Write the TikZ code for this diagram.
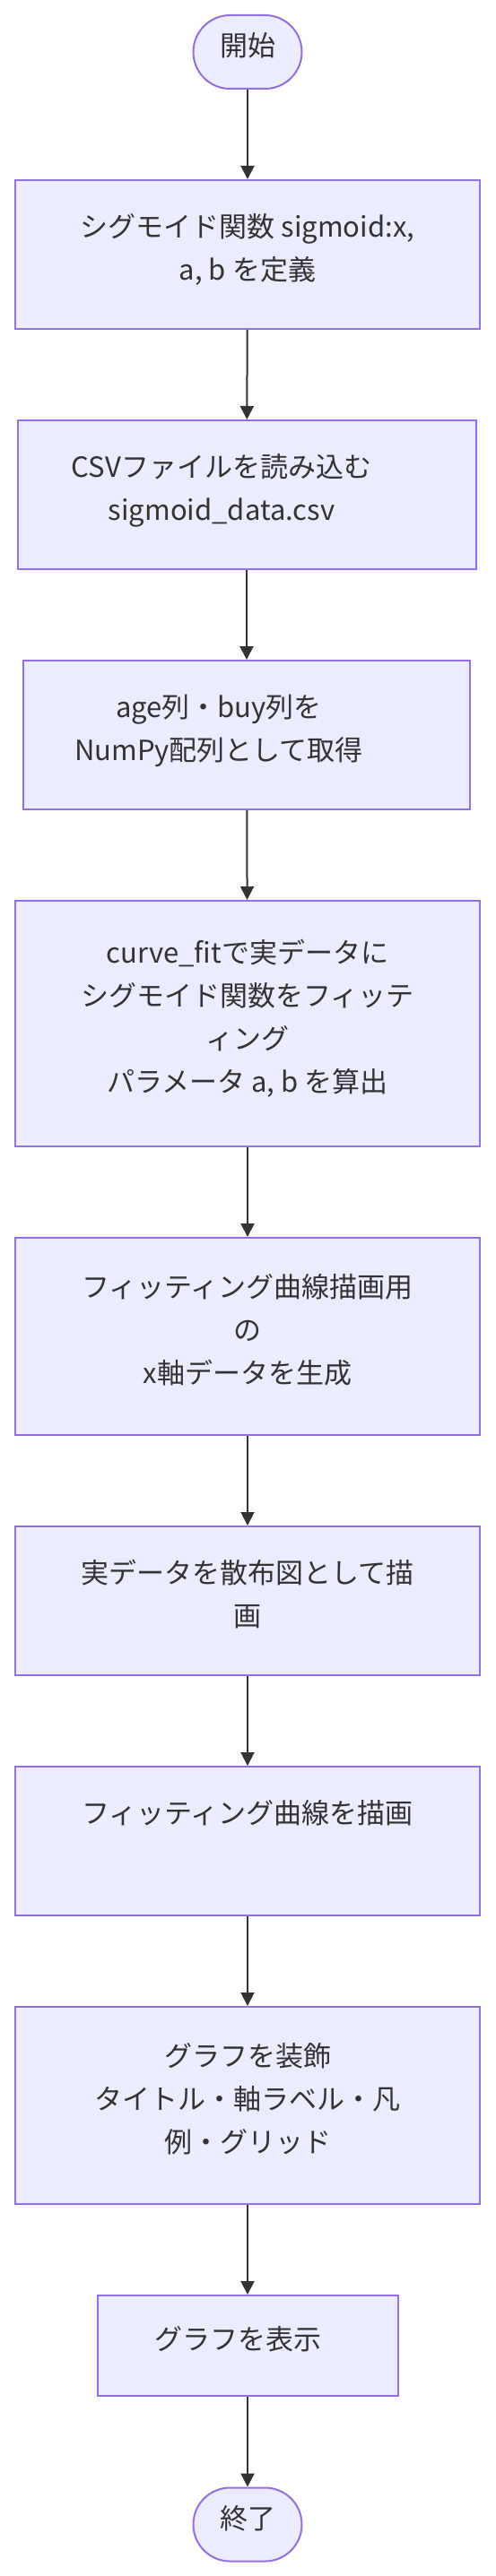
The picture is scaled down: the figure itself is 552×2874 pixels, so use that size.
\documentclass[tikz,border=0pt]{standalone}
\usepackage{fontspec}
\setmainfont{Noto Sans CJK JP}
\usetikzlibrary{arrows.meta}
\definecolor{mmfill}{HTML}{ECECFF}
\definecolor{mmborder}{HTML}{9370DB}
\definecolor{mmline}{HTML}{333333}
\tikzset{
  proc/.style={draw=mmborder, fill=mmfill, line width=2pt, text=mmline, align=center,
    inner sep=0pt, text depth=17pt, font=\fontsize{31}{48}\selectfont},
  term/.style={proc, rounded corners=41pt, minimum width=121pt, minimum height=82pt},
  boxtext/.style={text=mmline, align=center, inner sep=0pt, text depth=17pt, font=\fontsize{31}{48}\selectfont},
  flow/.style={draw=mmline, line width=2pt, -{Triangle[length=15pt,width=15pt]}},
}
\begin{document}
\begin{tikzpicture}[x=1pt, y=-1pt]
                \useasboundingbox (0,0) rectangle (552,2874);

                \node[term] (start) at (276,58) {開始};
                \node[proc, minimum width=518pt, minimum height=166pt] (define) at (276,284) {シグモイド関数 sigmoid:x,\\a, b を定義};
                \node[proc, minimum width=511pt, minimum height=166pt] (load) at (275,552) {};
                \node[boxtext] (loadtext) at ([xshift=-28pt]load.center) {CSVファイルを読み込む\\sigmoid\_data.csv};
                \node[proc, minimum width=498pt, minimum height=166pt] (arrays) at (275,820) {};
                \node[boxtext] (arraystext) at ([xshift=-31pt]arrays.center) {age列・buy列を\\NumPy配列として取得};
                \node[proc, minimum width=518pt, minimum height=274pt] (fit) at (276,1142) {curve\_fitで実データに\\シグモイド関数をフィッテ\\ィング\\パラメータ a, b を算出};
                \node[proc, minimum width=518pt, minimum height=220pt] (xdata) at (276,1491) {フィッティング曲線描画用\\の\\x軸データを生成};
                \node[proc, minimum width=518pt, minimum height=166pt] (scatter) at (276,1786) {実データを散布図として描\\画};
                \node[proc, minimum width=518pt, minimum height=166pt] (curve) at (276,2054) {フィッティング曲線を描画\\\mbox{}};
                \node[proc, minimum width=518pt, minimum height=220pt] (decorate) at (276,2349) {グラフを装飾\\タイトル・軸ラベル・凡\\例・グリッド};
                \node[proc, minimum width=335pt, minimum height=112pt] (show) at (276,2617) {};
                \node[boxtext] (showtext) at ([xshift=-11pt]show.center) {グラフを表示};
                \node[term] (end) at (276,2816.5) {終了};

                \draw[flow] (start) -- (define);
                \draw[flow] (define) -- (load);
                \draw[flow] (load) -- (arrays);
                \draw[flow] (arrays) -- (fit);
                \draw[flow] (fit) -- (xdata);
                \draw[flow] (xdata) -- (scatter);
                \draw[flow] (scatter) -- (curve);
                \draw[flow] (curve) -- (decorate);
                \draw[flow] (decorate) -- (show);
                \draw[flow] (show) -- (end);
            \end{tikzpicture}
\end{document}
